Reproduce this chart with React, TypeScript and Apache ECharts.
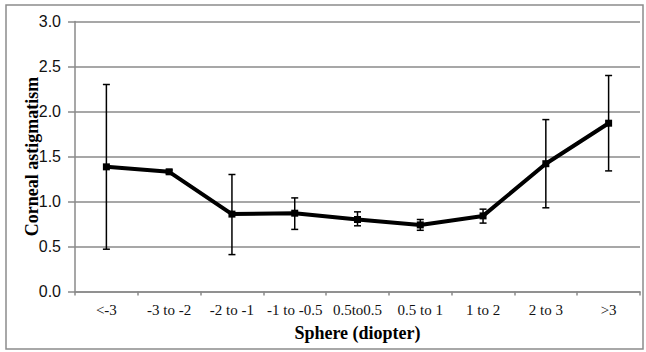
import React, { useEffect, useRef } from "react";
import * as echarts from "echarts";

const categories = ["<-3", "-3 to -2", "-2 to -1", "-1 to -0.5", "0.5to0.5", "0.5 to 1", "1 to 2", "2 to 3", ">3"];
const means = [1.385, 1.33, 0.86, 0.87, 0.8, 0.74, 0.84, 1.42, 1.87];
const lows = [0.47, 1.31, 0.41, 0.69, 0.73, 0.68, 0.76, 0.93, 1.34];
const highs = [2.3, 1.35, 1.3, 1.04, 0.885, 0.8, 0.915, 1.91, 2.4];
const yTicks = { min: 0, max: 3, interval: 0.5 };
const xTitle = "Sphere (diopter)";
const yTitle = "Corneal astigmatism";

export default function App() {
  const ref = useRef<HTMLDivElement>(null);
  useEffect(() => {
    document.body.style.margin = "0";
    const chart = echarts.init(ref.current!, null, { renderer: "svg" });
    const gray = "#8a8a8a";
    chart.setOption({
      animation: false,
      backgroundColor: "#ffffff",
      grid: { left: 75, right: 6, top: 21.5, bottom: 60.5, containLabel: false },
      xAxis: {
        type: "category",
        data: categories,
        boundaryGap: true,
        axisLine: { show: true, lineStyle: { color: gray, width: 1.5 } },
        axisTick: { show: true, length: 4, lineStyle: { color: gray, width: 1.5 } },
        axisLabel: {
          interval: 0,
          margin: 11,
          color: "#111",
          fontFamily: "Liberation Serif",
          fontSize: 15,
        },
        splitLine: { show: false },
      },
      yAxis: {
        type: "value",
        min: yTicks.min,
        max: yTicks.max,
        interval: yTicks.interval,
        axisLine: { show: true, lineStyle: { color: gray, width: 1.5 } },
        axisTick: { show: true, length: 7, lineStyle: { color: gray, width: 1.5 } },
        axisLabel: {
          margin: 14,
          color: "#111",
          fontFamily: "Liberation Sans",
          fontSize: 16,
          formatter: (v: number) => v.toFixed(1),
        },
        splitLine: { show: true, lineStyle: { color: gray, width: 1.5 } },
      },
      graphic: [
        {
          type: "rect",
          shape: { x: 6, y: 5, width: 637, height: 344 },
          style: { fill: "none", stroke: "#8c8c8c", lineWidth: 1.5 },
          silent: true,
        },
        {
          type: "text",
          x: 32,
          y: 156.5,
          rotation: Math.PI / 2,
          style: {
            text: yTitle,
            fontFamily: "Liberation Serif",
            fontWeight: "bold",
            fontSize: 18,
            fill: "#000",
            textAlign: "center",
            textVerticalAlign: "middle",
          },
        },
        {
          type: "text",
          x: 357.5,
          y: 333,
          style: {
            text: xTitle,
            fontFamily: "Liberation Serif",
            fontWeight: "bold",
            fontSize: 18,
            fill: "#000",
            textAlign: "center",
            textVerticalAlign: "middle",
          },
        },
      ],
      series: [
        {
          type: "custom",
          data: categories.map((_, i) => [i, lows[i], highs[i]]),
          z: 3,
          renderItem: (params: any, api: any) => {
            const x = api.value(0);
            const lo = api.coord([x, api.value(1)]);
            const hi = api.coord([x, api.value(2)]);
            const w = 3.5;
            const st = { stroke: "#000", lineWidth: 1.5 };
            return {
              type: "group",
              children: [
                { type: "line", shape: { x1: lo[0], y1: hi[1], x2: lo[0], y2: lo[1] }, style: st },
                { type: "line", shape: { x1: lo[0] - w, y1: hi[1], x2: lo[0] + w, y2: hi[1] }, style: st },
                { type: "line", shape: { x1: lo[0] - w, y1: lo[1], x2: lo[0] + w, y2: lo[1] }, style: st },
              ],
            };
          },
        },
        {
          type: "line",
          data: means,
          z: 4,
          symbol: "rect",
          symbolSize: 7,
          lineStyle: { color: "#000", width: 4 },
          itemStyle: { color: "#000" },
        },
      ],
    });
    return () => chart.dispose();
  }, []);
  return <div ref={ref} style={{ width: 646, height: 352 }} />;
}
